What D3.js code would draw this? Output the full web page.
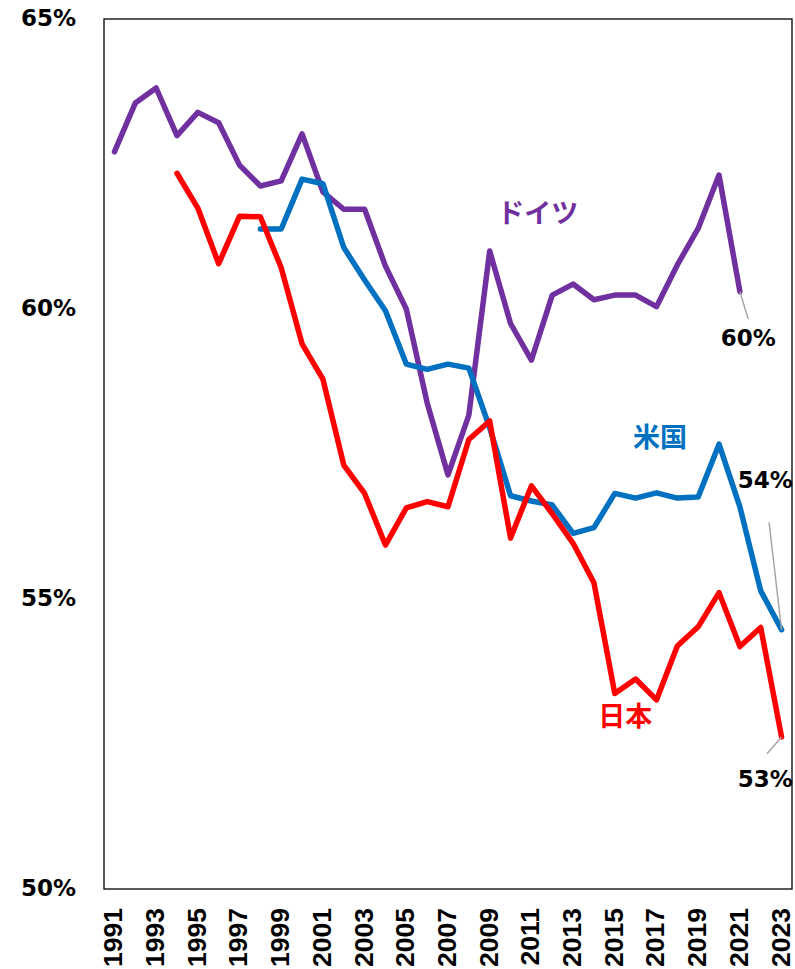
<!DOCTYPE html>
<html>
<head>
<meta charset="utf-8">
<script src="https://cdn.jsdelivr.net/npm/d3@7"></script>
<style>
  html, body { margin: 0; padding: 0; background: #fff; }
  svg { display: block; }
</style>
</head>
<body>
<div id="chart"></div>
<script>
// Years on the horizontal axis
const years = d3.range(1991, 2024);
// Year labels shown (every other year)
const yearTicks = d3.range(1991, 2024, 2);
// Vertical axis ticks (%)
const yTicks = [50, 55, 60, 65];

// Germany, 1991–2021 (%)
const germanyYears = d3.range(1991, 2022);
const germany = [62.71, 63.55, 63.81, 62.99, 63.39, 63.21, 62.48, 62.12, 62.21, 63.02,
                 62.02, 61.72, 61.72, 60.74, 60.00, 58.38, 57.14, 58.17, 61.00, 59.75,
                 59.12, 60.24, 60.43, 60.16, 60.24, 60.24, 60.04, 60.76, 61.39, 62.31,
                 60.30];
// United States, 1998–2023 (%)
const usYears = d3.range(1998, 2024);
const us = [61.38, 61.38, 62.24, 62.16, 61.06, 60.50, 59.97, 59.05, 58.96, 59.05,
            58.98, 57.95, 56.78, 56.69, 56.62, 56.13, 56.23, 56.82, 56.74, 56.83,
            56.74, 56.76, 57.67, 56.59, 55.14, 54.47];
// Japan, 1994–2023 (%)
const japanYears = d3.range(1994, 2024);
const japan = [62.34, 61.74, 60.78, 61.60, 61.59, 60.71, 59.40, 58.79, 57.31, 56.82,
               55.93, 56.57, 56.68, 56.59, 57.75, 58.07, 56.05, 56.95, 56.47, 55.96,
               55.28, 53.37, 53.62, 53.26, 54.19, 54.52, 55.11, 54.18, 54.51, 52.62];

const W = 795, H = 969;
const margin = { left: 104, right: 3, top: 19, bottom: 80 };
const plotW = W - margin.left - margin.right;
const plotH = H - margin.top - margin.bottom;

const svg = d3.select("#chart").append("svg")
  .attr("width", W).attr("height", H);

const x = d3.scaleBand().domain(years).range([margin.left, margin.left + plotW]).padding(0);
const y = d3.scaleLinear().domain([50, 65]).range([margin.top + plotH, margin.top]);
const xc = yr => x(yr) + x.bandwidth() / 2;
// fractional-year position for annotations
const xf = yr => xc(1991) + (yr - 1991) * x.step();

const fontLatin = "'DejaVu Sans', Verdana, sans-serif";
const fontYear = "'Liberation Sans', Arial, sans-serif";
const fontJP = "'Noto Sans CJK JP', 'Noto Sans', sans-serif";

// plot frame
svg.append("rect")
  .attr("x", margin.left).attr("y", margin.top)
  .attr("width", plotW).attr("height", plotH)
  .attr("fill", "none").attr("stroke", "#000").attr("stroke-width", 1.3);

// Y axis labels
const yAxis = d3.axisLeft(y).tickValues(yTicks).tickSize(0).tickPadding(28)
  .tickFormat(d => d + "%");
svg.append("g").attr("transform", `translate(${margin.left},0)`).call(yAxis)
  .call(g => g.select(".domain").remove())
  .selectAll("text")
  .attr("font-family", fontLatin).attr("font-weight", "bold")
  .attr("font-size", 23).attr("fill", "#000").attr("dy", "0.28em");

// X axis labels (rotated)
const xAxis = d3.axisBottom(x).tickValues(yearTicks).tickSize(0).tickPadding(0);
svg.append("g").attr("transform", `translate(0,${margin.top + plotH})`).call(xAxis)
  .call(g => g.select(".domain").remove())
  .selectAll("text")
  .attr("font-family", fontYear).attr("font-weight", "bold")
  .attr("font-size", 26.5).attr("fill", "#000")
  .attr("text-anchor", "end")
  .attr("transform", "rotate(-90)")
  .attr("x", -19).attr("y", 0).attr("dy", "0.3em");

const line = d3.line().x(d => xc(d[0])).y(d => y(d[1]));

const series = [
  { name: "ドイツ", yrs: germanyYears, vals: germany, color: "#7030A0" },
  { name: "米国", yrs: usYears, vals: us, color: "#0070C0" },
  { name: "日本", yrs: japanYears, vals: japan, color: "#FF0000" }
];

series.forEach(s => {
  svg.append("path")
    .datum(s.yrs.map((yr, i) => [yr, s.vals[i]]))
    .attr("d", line)
    .attr("fill", "none")
    .attr("stroke", s.color)
    .attr("stroke-width", 5.5)
    .attr("stroke-linejoin", "round")
    .attr("stroke-linecap", "round");
});

// Series names
const nameLabels = [
  { text: "ドイツ", yr: 2011.3, v: 61.65, color: "#7030A0" },
  { text: "米国", yr: 2017.17, v: 57.79, color: "#0070C0" },
  { text: "日本", yr: 2015.5, v: 52.985, color: "#FF0000" }
];
svg.selectAll(".sname").data(nameLabels).enter().append("text")
  .attr("x", d => xf(d.yr)).attr("y", d => y(d.v))
  .attr("text-anchor", "middle").attr("dy", "0.36em")
  .attr("font-family", fontJP).attr("font-weight", "bold")
  .attr("font-size", 27).attr("fill", d => d.color)
  .text(d => d.text);

// End-value labels with leader lines
const endLabels = [
  { yr: 2021, v: germany[germany.length - 1], lx: 2021.4, ly: 59.83, tx: 2021.4, ty: 59.37 },
  { yr: 2023, v: us[us.length - 1], lx: 2022.4, ly: 56.32, tx: 2022.22, ty: 56.91 },
  { yr: 2023, v: japan[japan.length - 1], lx: 2022.3, ly: 52.33, tx: 2022.22, ty: 51.76 }
];
endLabels.forEach(d => {
  svg.append("line")
    .attr("x1", xc(d.yr)).attr("y1", y(d.v))
    .attr("x2", xf(d.lx)).attr("y2", y(d.ly))
    .attr("stroke", "#A6A6A6").attr("stroke-width", 1.5);
  svg.append("text")
    .attr("x", xf(d.tx)).attr("y", y(d.ty))
    .attr("text-anchor", "middle")
    .attr("font-family", fontLatin).attr("font-weight", "bold")
    .attr("font-size", 23).attr("fill", "#000")
    .text(Math.round(d.v) + "%");
});
</script>
</body>
</html>
